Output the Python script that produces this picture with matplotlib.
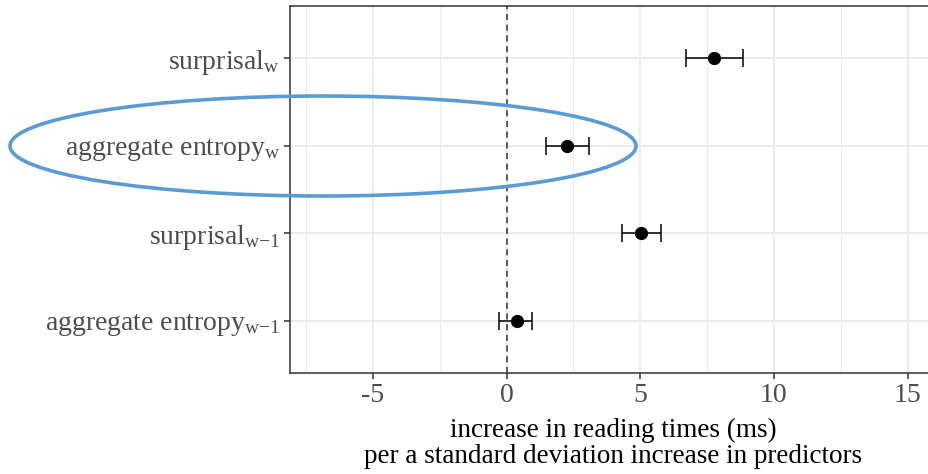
import matplotlib
matplotlib.use("Agg")
import matplotlib.pyplot as plt
from matplotlib.patches import Ellipse
from matplotlib.ticker import MultipleLocator

plt.rcParams['font.family'] = ['Liberation Serif', 'DejaVu Serif']
plt.rcParams['mathtext.fontset'] = 'custom'
plt.rcParams['mathtext.rm'] = 'Liberation Serif'
plt.rcParams['mathtext.it'] = 'Liberation Serif:italic'

# predictors, bottom to top
labels = [r'aggregate entropy$_{\mathrm{w}{-}1}$',
          r'surprisal$_{\mathrm{w}{-}1}$',
          r'aggregate entropy$_{\mathrm{w}}$',
          r'surprisal$_{\mathrm{w}}$']
estimate = [0.38, 5.03, 2.25, 7.77]
lower = [-0.28, 4.30, 1.47, 6.72]
upper = [0.95, 5.78, 3.07, 8.86]

x_ticks = [-5, 0, 5, 10, 15]

fig = plt.figure(figsize=(9.29, 4.74), dpi=100)
ax = fig.add_axes([290 / 929, 101 / 474, 647 / 929, 367 / 474])

ypos = list(range(1, len(labels) + 1))
err = [[e - l for e, l in zip(estimate, lower)],
       [u - e for e, u in zip(estimate, upper)]]

ax.axvline(0, color='#333333', linestyle=(0, (4, 3)), linewidth=1.1, zorder=2)
ax.errorbar(estimate, ypos, xerr=err, fmt='o', color='black', markersize=8.5,
            elinewidth=1.1, capsize=6.5, capthick=1.1, zorder=3)

ax.set_xlim(-8.1, 16.1)
ax.set_ylim(0.4, 4.6)
ax.set_xticks(x_ticks)
ax.set_xticklabels(['-5', '0', '5', '10', '15'])
ax.xaxis.set_minor_locator(MultipleLocator(2.5))
ax.set_yticks(ypos)
ax.set_yticklabels(labels)

ax.grid(which='major', color='#EBEBEB', linewidth=1.5)
ax.grid(which='minor', axis='x', color='#EBEBEB', linewidth=0.8)
ax.set_axisbelow(True)
ax.tick_params(which='minor', length=0)
ax.tick_params(which='major', length=4, width=1.1, color='#333333',
               labelsize=20, labelcolor='#4D4D4D', pad=3)
for s in ax.spines.values():
    s.set_color('#333333')
    s.set_linewidth(1.1)

ax.set_xlabel('increase in reading times (ms)\nper a standard deviation increase in predictors',
              fontsize=19.5, color='black', linespacing=1.05, labelpad=7)

# highlight around the aggregate entropy_w row
ell = Ellipse((323 / 929, 1 - 146 / 474), 626 / 929, 100 / 474,
              transform=fig.transFigure, fill=False, edgecolor='#5B9BD5',
              linewidth=2.6, zorder=10)
fig.add_artist(ell)

fig.savefig('out.png', dpi=100)
